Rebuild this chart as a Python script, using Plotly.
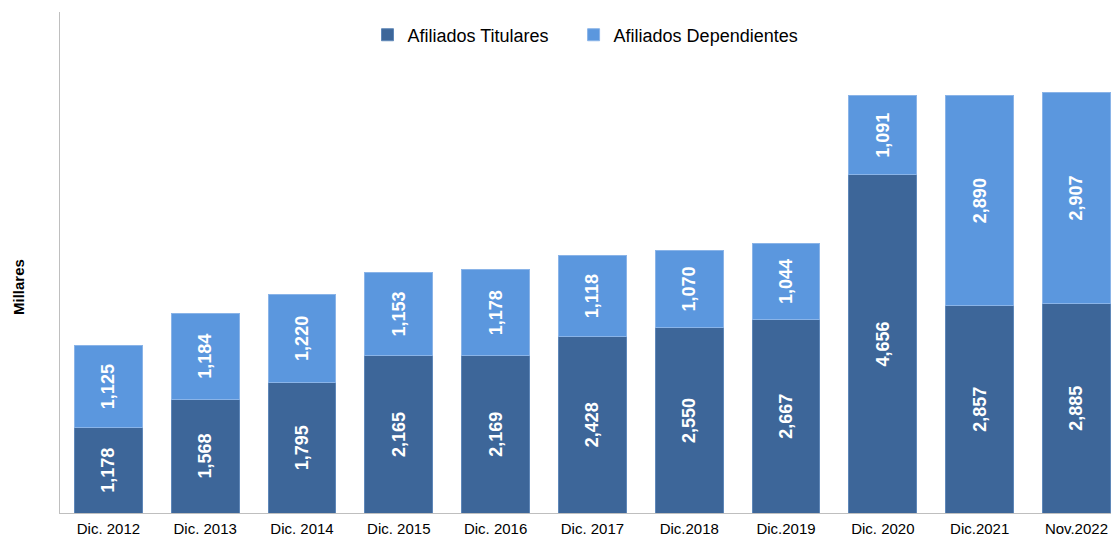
import plotly.graph_objects as go

categories = ["Dic. 2012", "Dic. 2013", "Dic. 2014", "Dic. 2015", "Dic. 2016", "Dic. 2017",
              "Dic.2018", "Dic.2019", "Dic. 2020", "Dic.2021", "Nov.2022"]
titulares = [1178, 1568, 1795, 2165, 2169, 2428, 2550, 2667, 4656, 2857, 2885]
dependientes = [1125, 1184, 1220, 1153, 1178, 1118, 1070, 1044, 1091, 2890, 2907]

FONT = "Liberation Sans, Arial, sans-serif"
PAD = "\u00a0" * 4

fig = go.Figure()
fig.add_trace(go.Bar(
    x=categories, y=titulares, name="Afiliados Titulares" + PAD,
    marker=dict(color="#3D6699", line=dict(color="#5F87B8", width=1)),
    text=[f"{v:,}" for v in titulares], textposition="inside",
    insidetextanchor="middle", textangle=-90,
    textfont=dict(family=FONT, size=18, color="white", weight="bold"),
    width=0.70,
))
fig.add_trace(go.Bar(
    x=categories, y=dependientes, name="Afiliados Dependientes",
    marker=dict(color="#5B97DE", line=dict(color="#8AB4E8", width=1)),
    text=[f"{v:,}" for v in dependientes], textposition="inside",
    insidetextanchor="middle", textangle=-90,
    textfont=dict(family=FONT, size=18, color="white", weight="bold"),
    width=0.70,
))

fig.update_layout(
    barmode="stack",
    width=1103, height=530,
    margin=dict(l=52, r=0, t=4, b=25),
    paper_bgcolor="white", plot_bgcolor="white",
    font=dict(family=FONT, color="#000000"),
    showlegend=True,
    legend=dict(orientation="h", x=0.5, xanchor="center", y=0.954, yanchor="middle",
                font=dict(family=FONT, size=18, color="#000000"),
                bgcolor="rgba(0,0,0,0)", traceorder="normal"),
    xaxis=dict(range=[-0.5, 10.357], showgrid=False, showline=True, linecolor="#BFBFBF",
               linewidth=1, ticks="", ticklabelstandoff=2, automargin=False,
               tickfont=dict(family=FONT, size=15, color="#000000")),
    yaxis=dict(range=[0, 6900], showgrid=False, showline=True, linecolor="#BFBFBF",
               linewidth=1, showticklabels=False, ticks="", zeroline=False, automargin=False),
    annotations=[dict(text="<b>Millares</b>", xref="paper", yref="paper", x=-0.04, y=0.451,
                      xanchor="center", yanchor="middle", textangle=-90, showarrow=False,
                      font=dict(family=FONT, size=15, color="#000000"))],
)

fig.write_html("out.html")
